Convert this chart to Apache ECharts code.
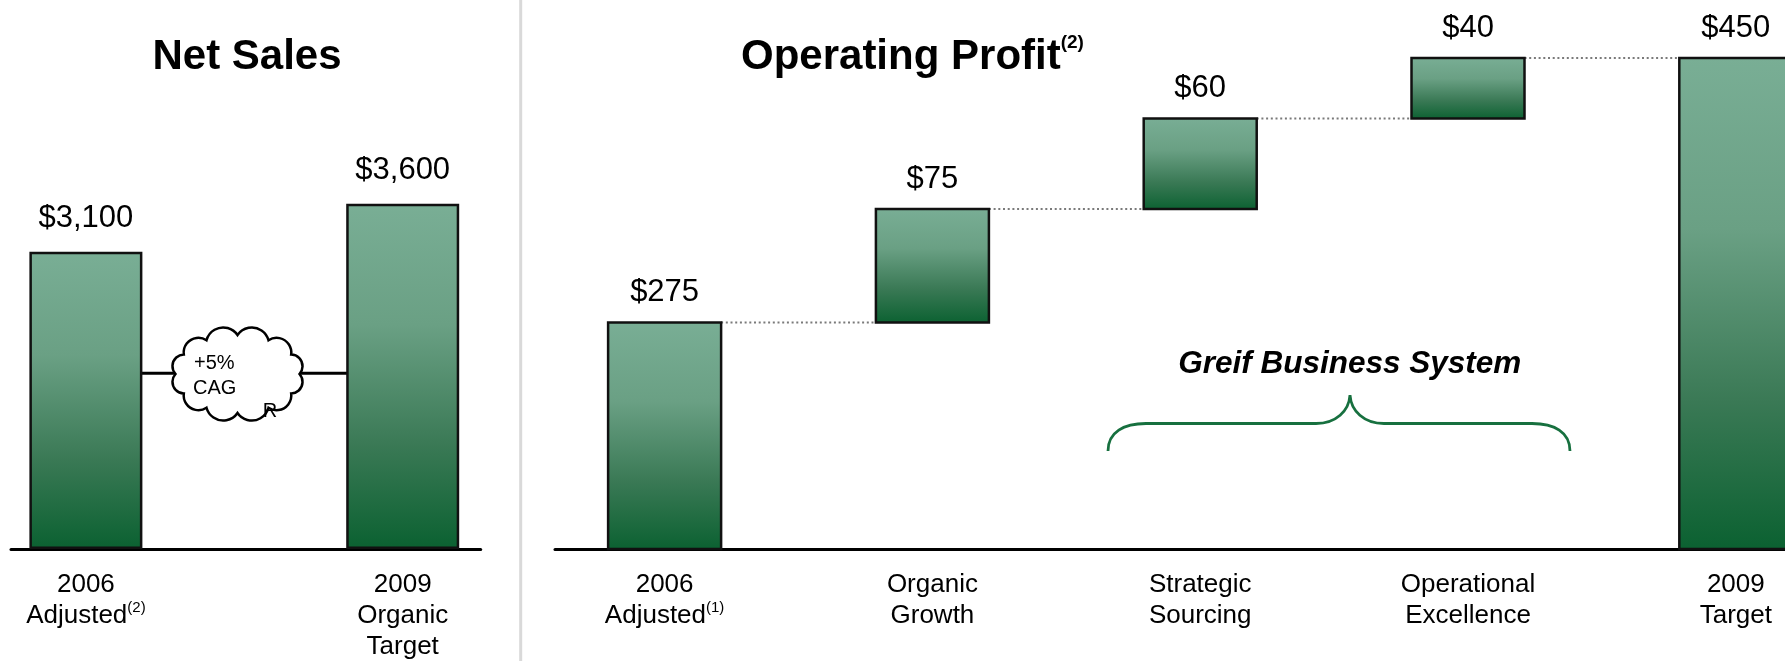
<!DOCTYPE html>
<html>
<head>
<meta charset="utf-8">
<script src="https://cdn.jsdelivr.net/npm/echarts@6/dist/echarts.min.js"></script>
<style>
  html, body { margin: 0; padding: 0; background: #fff; }
  #chart { width: 1785px; height: 661px; }
</style>
</head>
<body>
<div id="chart"></div>
<script>
// 左：Net Sales
const salesCats = ['2006\nAdjusted', '2009\nOrganic\nTarget'];
const salesNotes = ['(2)', ''];
const salesValues = [3100, 3600];

// 右：Operating Profit 桥图
const profitCats = ['2006\nAdjusted', 'Organic\nGrowth', 'Strategic\nSourcing', 'Operational\nExcellence', '2009\nTarget'];
const profitNotes = ['(1)', '', '', '', ''];
const profitValues = [275, 75, 60, 40, 450];
const profitTotal = [true, false, false, false, true];

const FONT = "'Liberation Sans', Arial, Helvetica, sans-serif";
const BAR_W = 113;
const VAL_FONT = 31;

const barFill = () => new echarts.graphic.LinearGradient(0, 0, 0, 1, [
  { offset: 0, color: '#79ae95' },
  { offset: 0.35, color: '#6aa084' },
  { offset: 0.7, color: '#3a7955' },
  { offset: 1, color: '#0b6131' },
]);

// [x, from, to]
const bridge = [];
let run = 0;
profitValues.forEach((v, i) => {
  if (profitTotal[i]) { bridge.push([i, 0, v]); run = v; }
  else { bridge.push([i, run, run + v]); run += v; }
});
// 虚线连接：每一级累计值
const links = bridge.slice(0, -1).map(d => [d[0], d[2]]);

function catLabel(cats, notes) {
  return v => {
    const i = Math.round(v);
    if (Math.abs(v - i) > 1e-6 || !cats[i]) return '';
    const lines = cats[i].split('\n').map(s => '{c|' + s + '}');
    if (notes[i]) lines[lines.length - 1] += '{n|' + notes[i] + '}';
    return lines.join('\n');
  };
}
const labelRich = {
  c: { fontSize: 26, lineHeight: 31, color: '#000', fontFamily: FONT },
  n: { fontSize: 15, lineHeight: 27, color: '#000', fontFamily: FONT, verticalAlign: 'top' },
};

function xAxisFor(gridIndex, min, max, cats, notes) {
  return {
    gridIndex, type: 'value', min, max,
    axisLine: { show: true, onZero: false, lineStyle: { color: '#000', width: 3 } },
    axisTick: { show: false },
    splitLine: { show: false },
    axisLabel: {
      customValues: cats.map((_, i) => i),
      formatter: catLabel(cats, notes),
      margin: 20, rich: labelRich, color: '#000',
    },
  };
}

// 云朵（+5% CAGR）
function cloudPath(cx, cy, rx, ry, n) {
  let d = '';
  let px, py;
  for (let k = 0; k <= n; k++) {
    const a = Math.PI + k * 2 * Math.PI / n;
    const x = cx + rx * Math.cos(a), y = cy + ry * Math.sin(a);
    if (k === 0) d += 'M' + x + ',' + y;
    else {
      const r = Math.hypot(x - px, y - py) * 0.55;
      d += ' A' + r + ',' + r + ' 0 0 1 ' + x + ',' + y;
    }
    px = x; py = y;
  }
  return d + ' Z';
}
const bracePath = 'M1108,451 C1108,432 1124,423.5 1146,423.5 L1316,423.5 C1336,423.5 1349,411 1350,395 ' +
  'C1351,411 1364,423.5 1384,423.5 L1532,423.5 C1554,423.5 1570,432 1570,451';

const chart = echarts.init(document.getElementById('chart'));
chart.setOption({
  backgroundColor: '#fff',
  animation: false,
  grid: [
    { left: 11, top: 203.7, width: 469.7, height: 345.3 },
    { left: 555, top: 58, width: 1230, height: 491 },
  ],
  xAxis: [
    xAxisFor(0, -0.2364, 1.2462, salesCats, salesNotes),
    xAxisFor(1, -0.4093, 4.1837, profitCats, profitNotes),
  ],
  yAxis: [
    { gridIndex: 0, type: 'value', min: 0, max: 3600, show: false },
    { gridIndex: 1, type: 'value', min: 125, max: 450, show: false },
  ],
  series: [
    {
      type: 'bar', xAxisIndex: 0, yAxisIndex: 0, barWidth: BAR_W, silent: true,
      data: salesValues.map((v, i) => [i, v]),
      itemStyle: { color: barFill(), borderColor: '#111', borderWidth: 2.5 },
      label: {
        show: true, position: 'top', distance: 18,
        formatter: p => '$' + p.value[1].toLocaleString('en-US'),
        fontSize: VAL_FONT, lineHeight: 30, color: '#000', fontFamily: FONT,
      },
    },
    {
      type: 'custom', xAxisIndex: 1, yAxisIndex: 1, silent: true, z: 2,
      data: links, encode: { x: 0, y: 1 },
      renderItem(params, api) {
        const a = api.coord([api.value(0), api.value(1)]);
        const b = api.coord([api.value(0) + 1, api.value(1)]);
        return {
          type: 'line',
          shape: { x1: a[0] + BAR_W / 2, y1: a[1], x2: b[0] - BAR_W / 2, y2: a[1] },
          style: { stroke: '#7a7a7a', lineWidth: 2, lineDash: [2, 2.7] },
        };
      },
    },
    {
      type: 'custom', xAxisIndex: 1, yAxisIndex: 1, silent: true, z: 3,
      data: bridge, encode: { x: 0, y: [1, 2] },
      renderItem(params, api) {
        const i = api.value(0);
        const lo = api.coord([i, api.value(1)]);
        const hi = api.coord([i, api.value(2)]);
        const cs = params.coordSys;
        const bottom = Math.min(lo[1], cs.y + cs.height);
        return {
          type: 'group',
          children: [
            {
              type: 'rect',
              shape: { x: hi[0] - BAR_W / 2, y: hi[1], width: BAR_W, height: bottom - hi[1] },
              style: { fill: barFill(), stroke: '#111', lineWidth: 2.5 },
            },
            {
              type: 'text', x: hi[0], y: hi[1] - 14.5,
              style: {
                text: '$' + profitValues[params.dataIndex],
                fill: '#000', font: VAL_FONT + 'px ' + FONT, lineHeight: 30,
                align: 'center', verticalAlign: 'bottom',
                textAlign: 'center', textVerticalAlign: 'bottom',
              },
            },
          ],
        };
      },
    },
    {
      // 装饰：云朵与大括号
      type: 'custom', coordinateSystem: 'none', silent: true, z: 6,
      data: [0],
      renderItem() {
        return {
          type: 'group',
          children: [
            { type: 'path', shape: { pathData: cloudPath(237.5, 374, 62, 39, 12) }, style: { fill: '#fff', stroke: '#000', lineWidth: 2.5 } },
            { type: 'path', shape: { pathData: bracePath }, style: { fill: null, stroke: '#17703f', lineWidth: 2.8 } },
          ],
        };
      },
    },
  ],
  graphic: [
    { type: 'line', z: 1, shape: { x1: 520.7, y1: 0, x2: 520.7, y2: 661 }, style: { stroke: '#d9d9d9', lineWidth: 3 } },
    // Net Sales 之间的连接线
    { type: 'line', z: 1, shape: { x1: 142, y1: 373.3, x2: 347, y2: 373.3 }, style: { stroke: '#000', lineWidth: 3 } },
    { type: 'text', z: 100, x: 194, y: 363.3, style: { text: '+5%', font: '20px ' + FONT, fill: '#000', align: 'left', verticalAlign: 'middle', textAlign: 'left', textVerticalAlign: 'middle' } },
    { type: 'text', z: 100, x: 193, y: 388.3, style: { text: 'CAG', font: '20px ' + FONT, fill: '#000', align: 'left', verticalAlign: 'middle', textAlign: 'left', textVerticalAlign: 'middle' } },
    { type: 'text', z: 100, x: 262.7, y: 411.5, style: { text: 'R', font: '20px ' + FONT, fill: '#000', align: 'left', verticalAlign: 'middle', textAlign: 'left', textVerticalAlign: 'middle' } },
    // 标题
    {
      type: 'text', z: 100, x: 247, y: 57,
      style: { text: 'Net Sales', font: 'bold 42px ' + FONT, fill: '#000', align: 'center', verticalAlign: 'middle', textAlign: 'center', textVerticalAlign: 'middle' },
    },
    {
      type: 'text', z: 100, x: 741, y: 57,
      style: {
        text: '{t|Operating Profit}{s|(2)}',
        align: 'left', verticalAlign: 'middle', textAlign: 'left', textVerticalAlign: 'middle',
        rich: {
          t: { fontSize: 42, fontWeight: 'bold', fontFamily: FONT, lineHeight: 48, fill: '#000' },
          s: { fontSize: 19, fontWeight: 'bold', fontFamily: FONT, lineHeight: 30, fill: '#000', verticalAlign: 'top' },
        },
      },
    },
    {
      type: 'text', z: 100, x: 1349.7, y: 364,
      style: { text: 'Greif Business System', font: 'italic bold 31.5px ' + FONT, fill: '#000', align: 'center', verticalAlign: 'middle', textAlign: 'center', textVerticalAlign: 'middle' },
    },
  ],
});
</script>
</body>
</html>
